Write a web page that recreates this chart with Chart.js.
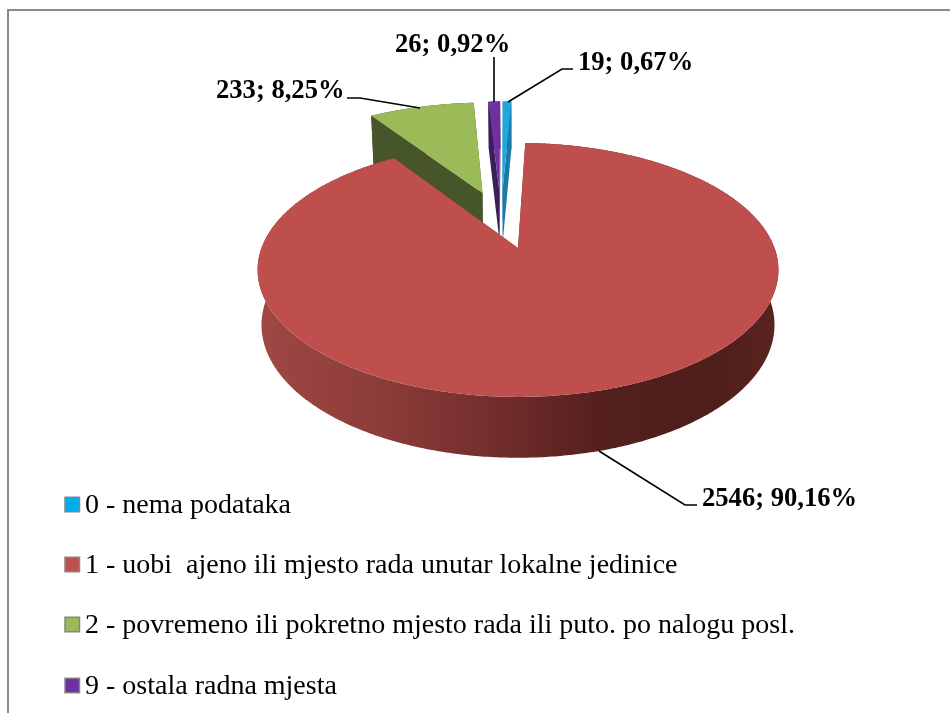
<!DOCTYPE html>
<html>
<head>
<meta charset="utf-8">
<style>html,body{margin:0;padding:0;background:#fff;overflow:hidden}canvas{display:block}</style>
<script src="https://cdn.jsdelivr.net/npm/chart.js@4"></script>
</head>
<body>
<canvas id="c" width="950" height="713"></canvas>
<script>
const categories = ['0 - nema podataka','1 - uobi  ajeno ili mjesto rada unutar lokalne jedinice','2 - povremeno ili pokretno mjesto rada ili puto. po nalogu posl.','9 - ostala radna mjesta'];
const values = [19, 2546, 233, 26];
const topColors = ['#1FA7DE','#BE4F4C','#9BBB59','#7030A0'];
const sideColors = ['#1A7BA6','#6B2A28','#47562A','#3A1F5C'];
const legendColors = ['#00ACEE','#C0504D','#9BBB59','#7030A0'];
const drawOrder = [2,3,0,1];
const wallStops = [[0,'#A04845'],[0.27,'#893A37'],[0.495,'#6D2B2A'],[0.66,'#54201E'],[0.86,'#4E1E1B'],[1,'#5A2320']];

// Oblique view of the pie plane: maps a point of the library's arc (in radii) to the page
const view = {ox:517.5, oy:248, C:256.5, A:123.2, p:-0.173, cu:-0.067, cv:-0.244};
const floorPlane = {sx:0.985, sy:1.046, dy:54};
function project(u,v){
  const a=u+view.cu, b=v+view.cv, w=1+view.p*b;
  return [view.ox+view.C*a/w, view.oy+view.A*b/w];
}
function lower(pt){
  return [view.ox+floorPlane.sx*(pt[0]-view.ox), view.oy+floorPlane.sy*(pt[1]-view.oy)+floorPlane.dy];
}
function poly(ctx,pts,fill){
  ctx.beginPath();
  pts.forEach((q,i)=> i?ctx.lineTo(q[0],q[1]):ctx.moveTo(q[0],q[1]));
  ctx.closePath();
  ctx.fillStyle=fill;
  ctx.fill();
}
// The library's arc element keeps its geometry; only its painting gains the tilt and the wall
const ArcClass = Chart.registry.getElement('arc');
ArcClass.prototype.draw = function(ctx){
  const s=this.startAngle, t=this.endAngle, R=this.outerRadius, idx=this.$context.dataIndex;
  const e=this.options.offset/R, h=(s+t)/2, ou=e*Math.cos(h), ov=e*Math.sin(h);
  const n=Math.max(3,Math.ceil((t-s)/0.01));
  const arc=[];
  for(let i=0;i<=n;i++){
    const a=s+(t-s)*i/n;
    arc.push(project(ou+Math.cos(a),ov+Math.sin(a)));
  }
  const apex=project(ou,ov);
  const first=arc[0], last=arc[arc.length-1];
  const side=sideColors[idx];
  poly(ctx,[apex,first,lower(first),lower(apex)],side);
  poly(ctx,[apex,last,lower(last),lower(apex)],side);
  let wall=side;
  if(idx===1){
    const xs=arc.map(q=>q[0]), x0=Math.min(...xs), x1=Math.max(...xs);
    wall=ctx.createLinearGradient(x0,0,x1,0);
    wallStops.forEach(st=>wall.addColorStop(st[0],st[1]));
  }
  poly(ctx,arc.concat(arc.map(lower).reverse()),wall);
  poly(ctx,[apex].concat(arc),topColors[idx]);
};
Chart.registry.getController('pie').prototype.draw = function(){
  const el=this._cachedMeta.data, area=this.chart.chartArea;
  drawOrder.forEach(i=>el[i].draw(this.chart.ctx,area));
};

const total = values.reduce((a,b)=>a+b,0);
const pctText = v => v+'; '+(v/total*100).toFixed(2).replace('.',',')+'%';
const labelLayout = [
  {x:578,y:70,leader:[[573,69],[562,69],[508,102]]},
  {x:702,y:506,leader:[[697,505],[685,505],[599,451]]},
  {x:216,y:98,leader:[[347,98],[360,98],[420,108]]},
  {x:395,y:52,leader:[[494,57],[494,102]]}
];
const legendLayout = {swatchX:65,size:14.5,textX:85,rows:[505,565,625,686]};

const decor = {
  id:'decor',
  beforeDatasetsDraw(chart){
    const ctx=chart.ctx;
    ctx.save();
    ctx.strokeStyle='#8a8a8a';ctx.lineWidth=2;
    ctx.beginPath();
    ctx.moveTo(8,720);ctx.lineTo(8,10);ctx.lineTo(950,10);
    ctx.stroke();
    ctx.restore();
  },
  afterDatasetsDraw(chart){
    const ctx=chart.ctx;
    ctx.save();
    ctx.textBaseline='alphabetic';ctx.textAlign='left';
    ctx.font="bold 26.6px 'Liberation Serif'";
    values.forEach((v,i)=>{
      const l=labelLayout[i];
      ctx.fillStyle='#000';
      ctx.fillText(pctText(v),l.x,l.y);
      ctx.beginPath();
      l.leader.forEach((q,k)=>k?ctx.lineTo(q[0],q[1]):ctx.moveTo(q[0],q[1]));
      ctx.strokeStyle='#000';ctx.lineWidth=1.6;ctx.stroke();
    });
    ctx.font="28px 'Liberation Serif'";
    categories.forEach((c,i)=>{
      const y=legendLayout.rows[i];
      ctx.fillStyle=legendColors[i];
      ctx.fillRect(legendLayout.swatchX,y-legendLayout.size/2-0.5,legendLayout.size,legendLayout.size);
      ctx.strokeStyle='#868686';ctx.lineWidth=1.5;
      ctx.strokeRect(legendLayout.swatchX,y-legendLayout.size/2-0.5,legendLayout.size,legendLayout.size);
      ctx.fillStyle='#000';
      ctx.fillText(c,legendLayout.textX,y+8);
    });
    ctx.restore();
  }
};

new Chart(document.getElementById('c'),{
  type:'pie',
  data:{labels:categories,datasets:[{data:values,backgroundColor:topColors,borderWidth:0,offset:60,radius:237}]},
  options:{
    responsive:false,animation:false,rotation:-0.5,
    plugins:{legend:{display:false},tooltip:{enabled:false}}
  },
  plugins:[decor]
});
</script>
</body>
</html>
